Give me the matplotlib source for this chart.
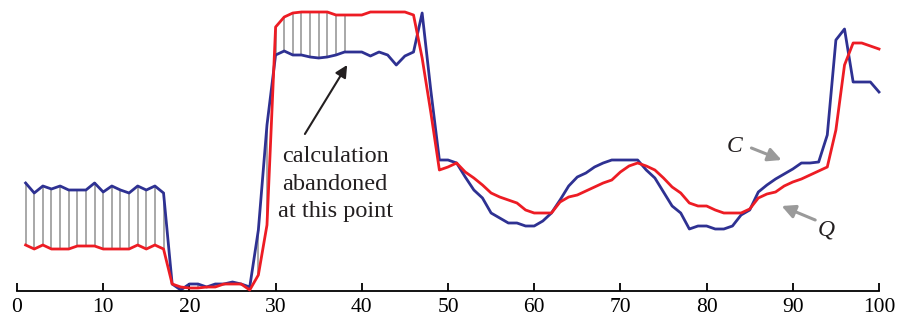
import matplotlib
matplotlib.use("Agg")
import matplotlib.pyplot as plt
import numpy as np

# sample index along the time axis
x = np.arange(1, 101)

# series C (blue) and Q (red), heights
c_vals = [107, 97, 104, 101, 104, 100, 100, 100, 107, 98,
          104, 100, 97, 104, 100, 104, 97, 6, 0, 6,
          6, 3, 6, 6, 8, 6, 3, 60, 165, 235,
          239, 235, 235, 233, 232, 233, 235, 238, 238, 238,
          234, 238, 235, 225, 234, 238, 277, 200, 130, 130,
          127, 113, 100, 92, 77, 72, 67, 67, 64, 64,
          69, 77, 90, 104, 113, 117, 123, 127, 130, 130,
          130, 130, 120, 112, 98, 84, 77, 61, 64, 64,
          61, 61, 64, 75, 80, 98, 105, 111, 116, 121,
          127, 127, 128, 155, 250, 261, 208, 208, 208, 198]

q_vals = [45, 41, 45, 41, 41, 41, 44, 44, 44, 41,
          41, 41, 41, 45, 41, 45, 41, 6, 3, 2,
          2, 3, 3, 6, 6, 6, 0, 15, 65, 263,
          273, 277, 278, 278, 278, 278, 275, 275, 275, 275,
          278, 278, 278, 278, 278, 275, 232, 178, 120, 123,
          127, 118, 112, 105, 97, 93, 90, 87, 80, 77,
          77, 77, 88, 93, 95, 99, 103, 107, 110, 118,
          124, 127, 124, 120, 112, 103, 97, 87, 84, 84,
          80, 77, 77, 77, 81, 92, 96, 98, 104, 108,
          111, 115, 119, 123, 160, 225, 247, 247, 244, 241]

# warping path computed so far (pairs of indices into C and Q)
warp_c = list(range(1, 39))
warp_q = list(range(1, 39))

BLUE = "#2E3192"
RED = "#ED1C24"
GRAY = "#9A9A9A"
SERIF = ["Liberation Serif", "DejaVu Serif"]

c = np.array(c_vals)
q = np.array(q_vals)

fig = plt.figure(figsize=(8.97, 3.2), dpi=100)
ax = fig.add_axes([17 / 897, 29 / 320, 862 / 897, 291 / 320])

for ic, iq in zip(warp_c, warp_q):
    ax.plot([x[ic - 1], x[iq - 1]], [c[ic - 1], q[iq - 1]],
            color=GRAY, lw=1.2, zorder=1, clip_on=False)

ax.plot(x, c, color=BLUE, lw=2.0, zorder=2, clip_on=False)
ax.plot(x, q, color=RED, lw=2.0, zorder=3, clip_on=False)

ax.set_xlim(0, 100)
ax.set_ylim(-1, 290)
for s in ("left", "right", "top"):
    ax.spines[s].set_visible(False)
ax.spines["bottom"].set_linewidth(1.3)
ax.set_xticks(range(0, 101, 10))
ax.set_yticks([])
ax.tick_params(axis="x", direction="in", length=6, width=1.3, pad=5, labelsize=15.5)
for lab in ax.get_xticklabels():
    lab.set_family(SERIF)

ax.text(36.9, 106, "calculation\nabandoned\nat this point", ha="center", va="center",
        fontsize=17.5, family=SERIF, linespacing=1.4, color="#231F20")
ax.annotate("", xy=(38.3, 225), xytext=(33.4, 156),
            arrowprops=dict(arrowstyle="-|>", color="#231F20", lw=1.5,
                            mutation_scale=18, shrinkA=0, shrinkB=0))

ax.text(83.3, 144, "C", ha="center", va="center", fontsize=17,
        family=SERIF, style="italic", color="#231F20")
ax.annotate("", xy=(88.7, 130), xytext=(85.2, 142),
            arrowprops=dict(arrowstyle="-|>", color=GRAY, lw=2.2,
                            mutation_scale=20, shrinkA=0, shrinkB=0))
ax.text(93.9, 60, "Q", ha="center", va="center", fontsize=17,
        family=SERIF, style="italic", color="#231F20")
ax.annotate("", xy=(88.7, 84), xytext=(92.6, 70),
            arrowprops=dict(arrowstyle="-|>", color=GRAY, lw=2.2,
                            mutation_scale=20, shrinkA=0, shrinkB=0))

fig.savefig("out.png", dpi=100)
